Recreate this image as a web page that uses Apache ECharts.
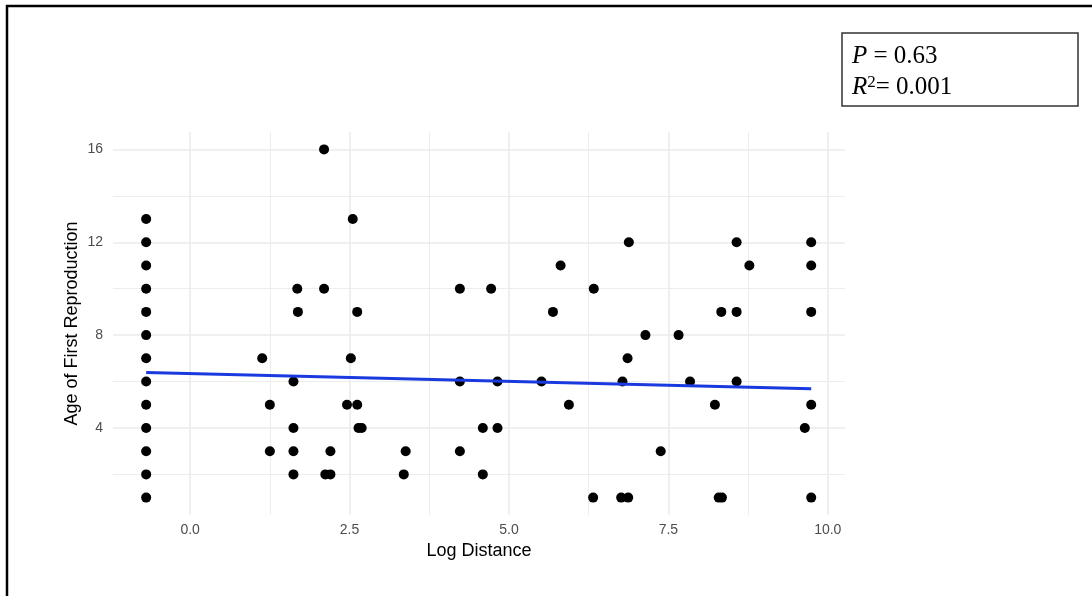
<!DOCTYPE html>
<html>
<head>
<meta charset="utf-8">
<script src="https://cdn.jsdelivr.net/npm/echarts@6/dist/echarts.min.js"></script>
<style>
html,body{margin:0;padding:0;background:#fff;}
#chart{width:1092px;height:596px;}
</style>
</head>
<body>
<div id="chart"></div>
<script>
// Scatter data (Log Distance, Age of First Reproduction)
const logDistance = [
  -0.69,-0.69,-0.69,-0.69,-0.69,-0.69,-0.69,-0.69,-0.69,-0.69,-0.69,-0.69,-0.69,
  1.13,1.25,1.25,1.62,1.62,1.62,1.62,1.68,1.69,
  2.10,2.10,2.12,2.20,2.20,
  2.46,2.52,2.55,2.62,2.62,2.64,2.69,
  3.35,3.38,
  4.23,4.23,4.23,4.59,4.59,4.72,4.82,4.82,
  5.51,5.69,5.81,5.94,
  6.32,6.33,6.76,6.78,6.86,6.87,6.88,
  7.14,7.38,7.66,7.84,
  8.23,8.29,8.33,8.34,8.57,8.57,8.57,8.77,
  9.64,9.74,9.74,9.74,9.74,9.74
];
const ageFirstRepro = [
  1,2,3,4,5,6,7,8,9,10,11,12,13,
  7,5,3,6,4,3,2,10,9,
  16,10,2,2,3,
  5,7,13,9,5,4,4,
  2,3,
  10,6,3,4,2,10,6,4,
  6,9,11,5,
  1,10,1,6,7,1,12,
  8,3,8,6,
  5,1,9,1,12,9,6,11,
  4,12,11,9,5,1
];
// Fitted regression line endpoints
const fitX = [-0.69, 9.74];
const fitY = [6.39, 5.69];

const xTicks = [0, 2.5, 5, 7.5, 10];
const xMinorTicks = [1.25, 3.75, 6.25, 8.75];
const yTicks = [4, 8, 12, 16];
const yMinorTicks = [2, 6, 10, 14];

const points = logDistance.map((x, i) => [x, ageFirstRepro[i]]);
const fitLine = fitX.map((x, i) => [x, fitY[i]]);

const gridColor = '#ebebeb';
const gridLines = []
  .concat(xTicks.map(v => ({xAxis: v, lineStyle: {width: 1.6, color: gridColor, type: 'solid'}})))
  .concat(xMinorTicks.map(v => ({xAxis: v, lineStyle: {width: 0.9, color: gridColor, type: 'solid'}})))
  .concat(yTicks.map(v => ({yAxis: v, lineStyle: {width: 1.6, color: gridColor, type: 'solid'}})))
  .concat(yMinorTicks.map(v => ({yAxis: v, lineStyle: {width: 0.9, color: gridColor, type: 'solid'}})));

const chart = echarts.init(document.getElementById('chart'), null, {renderer: 'canvas'});
const font = '"Liberation Sans", Arial, Helvetica, sans-serif';

chart.setOption({
  animation: false,
  backgroundColor: '#ffffff',
  grid: {left: 113, right: 247, top: 132, bottom: 81, containLabel: false},
  xAxis: {
    type: 'value',
    min: -1.21, max: 10.27,
    name: 'Log Distance',
    nameLocation: 'middle',
    nameGap: 27,
    nameMoveOverlap: false,
    nameTextStyle: {fontFamily: font, fontSize: 18, color: '#000'},
    axisLine: {show: false},
    axisTick: {show: false},
    splitLine: {show: false},
    axisLabel: {
      customValues: xTicks,
      formatter: v => v.toFixed(1),
      color: '#4d4d4d', fontFamily: font, fontSize: 14, margin: 8
    }
  },
  yAxis: {
    type: 'value',
    min: 0.25, max: 16.75,
    name: 'Age of First Reproduction',
    nameLocation: 'middle',
    nameGap: 32,
    nameMoveOverlap: false,
    nameTextStyle: {fontFamily: font, fontSize: 18, color: '#000'},
    axisLine: {show: false},
    axisTick: {show: false},
    splitLine: {show: false},
    axisLabel: {
      customValues: yTicks,
      formatter: v => String(v),
      color: '#4d4d4d', fontFamily: font, fontSize: 14, margin: 10
    }
  },
  series: [
    {
      type: 'scatter',
      data: [],
      silent: true,
      z: 0,
      markLine: {
        silent: true,
        z: 0,
        symbol: ['none', 'none'],
        label: {show: false},
        lineStyle: {type: 'solid'},
        emphasis: {disabled: true},
        animation: false,
        data: gridLines
      }
    },
    {
      type: 'scatter',
      data: points,
      symbolSize: 10,
      itemStyle: {color: '#000000', opacity: 1},
      z: 6
    },
    {
      type: 'line',
      data: fitLine,
      showSymbol: false,
      symbol: 'none',
      lineStyle: {color: '#1a3ae0', width: 3},
      z: 7
    }
  ],
  graphic: [
    {type: 'line', shape: {x1: 7, y1: 5, x2: 7, y2: 596}, style: {stroke: '#000', lineWidth: 2.5}},
    {type: 'line', shape: {x1: 6, y1: 6, x2: 1092, y2: 6}, style: {stroke: '#000', lineWidth: 2.5}},
    {type: 'rect', shape: {x: 842, y: 33, width: 236, height: 73}, style: {fill: '#fff', stroke: '#333', lineWidth: 1.5}},
    {
      type: 'text', x: 852, y: 56,
      style: {
        text: '{i|P} = 0.63',
        verticalAlign: 'middle',
        font: '25px "Liberation Serif", "Times New Roman", serif',
        fill: '#000',
        rich: {
          i: {fontFamily: '"Liberation Serif", "Times New Roman", serif', fontStyle: 'italic', fontSize: 25, fill: '#000'}
        }
      }
    },
    {
      type: 'text', x: 852, y: 87,
      style: {
        text: '{i|R}{s|2}= 0.001',
        verticalAlign: 'middle',
        font: '25px "Liberation Serif", "Times New Roman", serif',
        fill: '#000',
        rich: {
          i: {fontFamily: '"Liberation Serif", "Times New Roman", serif', fontStyle: 'italic', fontSize: 25, fill: '#000'},
          s: {fontFamily: '"Liberation Serif", "Times New Roman", serif', fontSize: 17, verticalAlign: 'top', fill: '#000'}
        }
      }
    }
  ]
});
</script>
</body>
</html>
